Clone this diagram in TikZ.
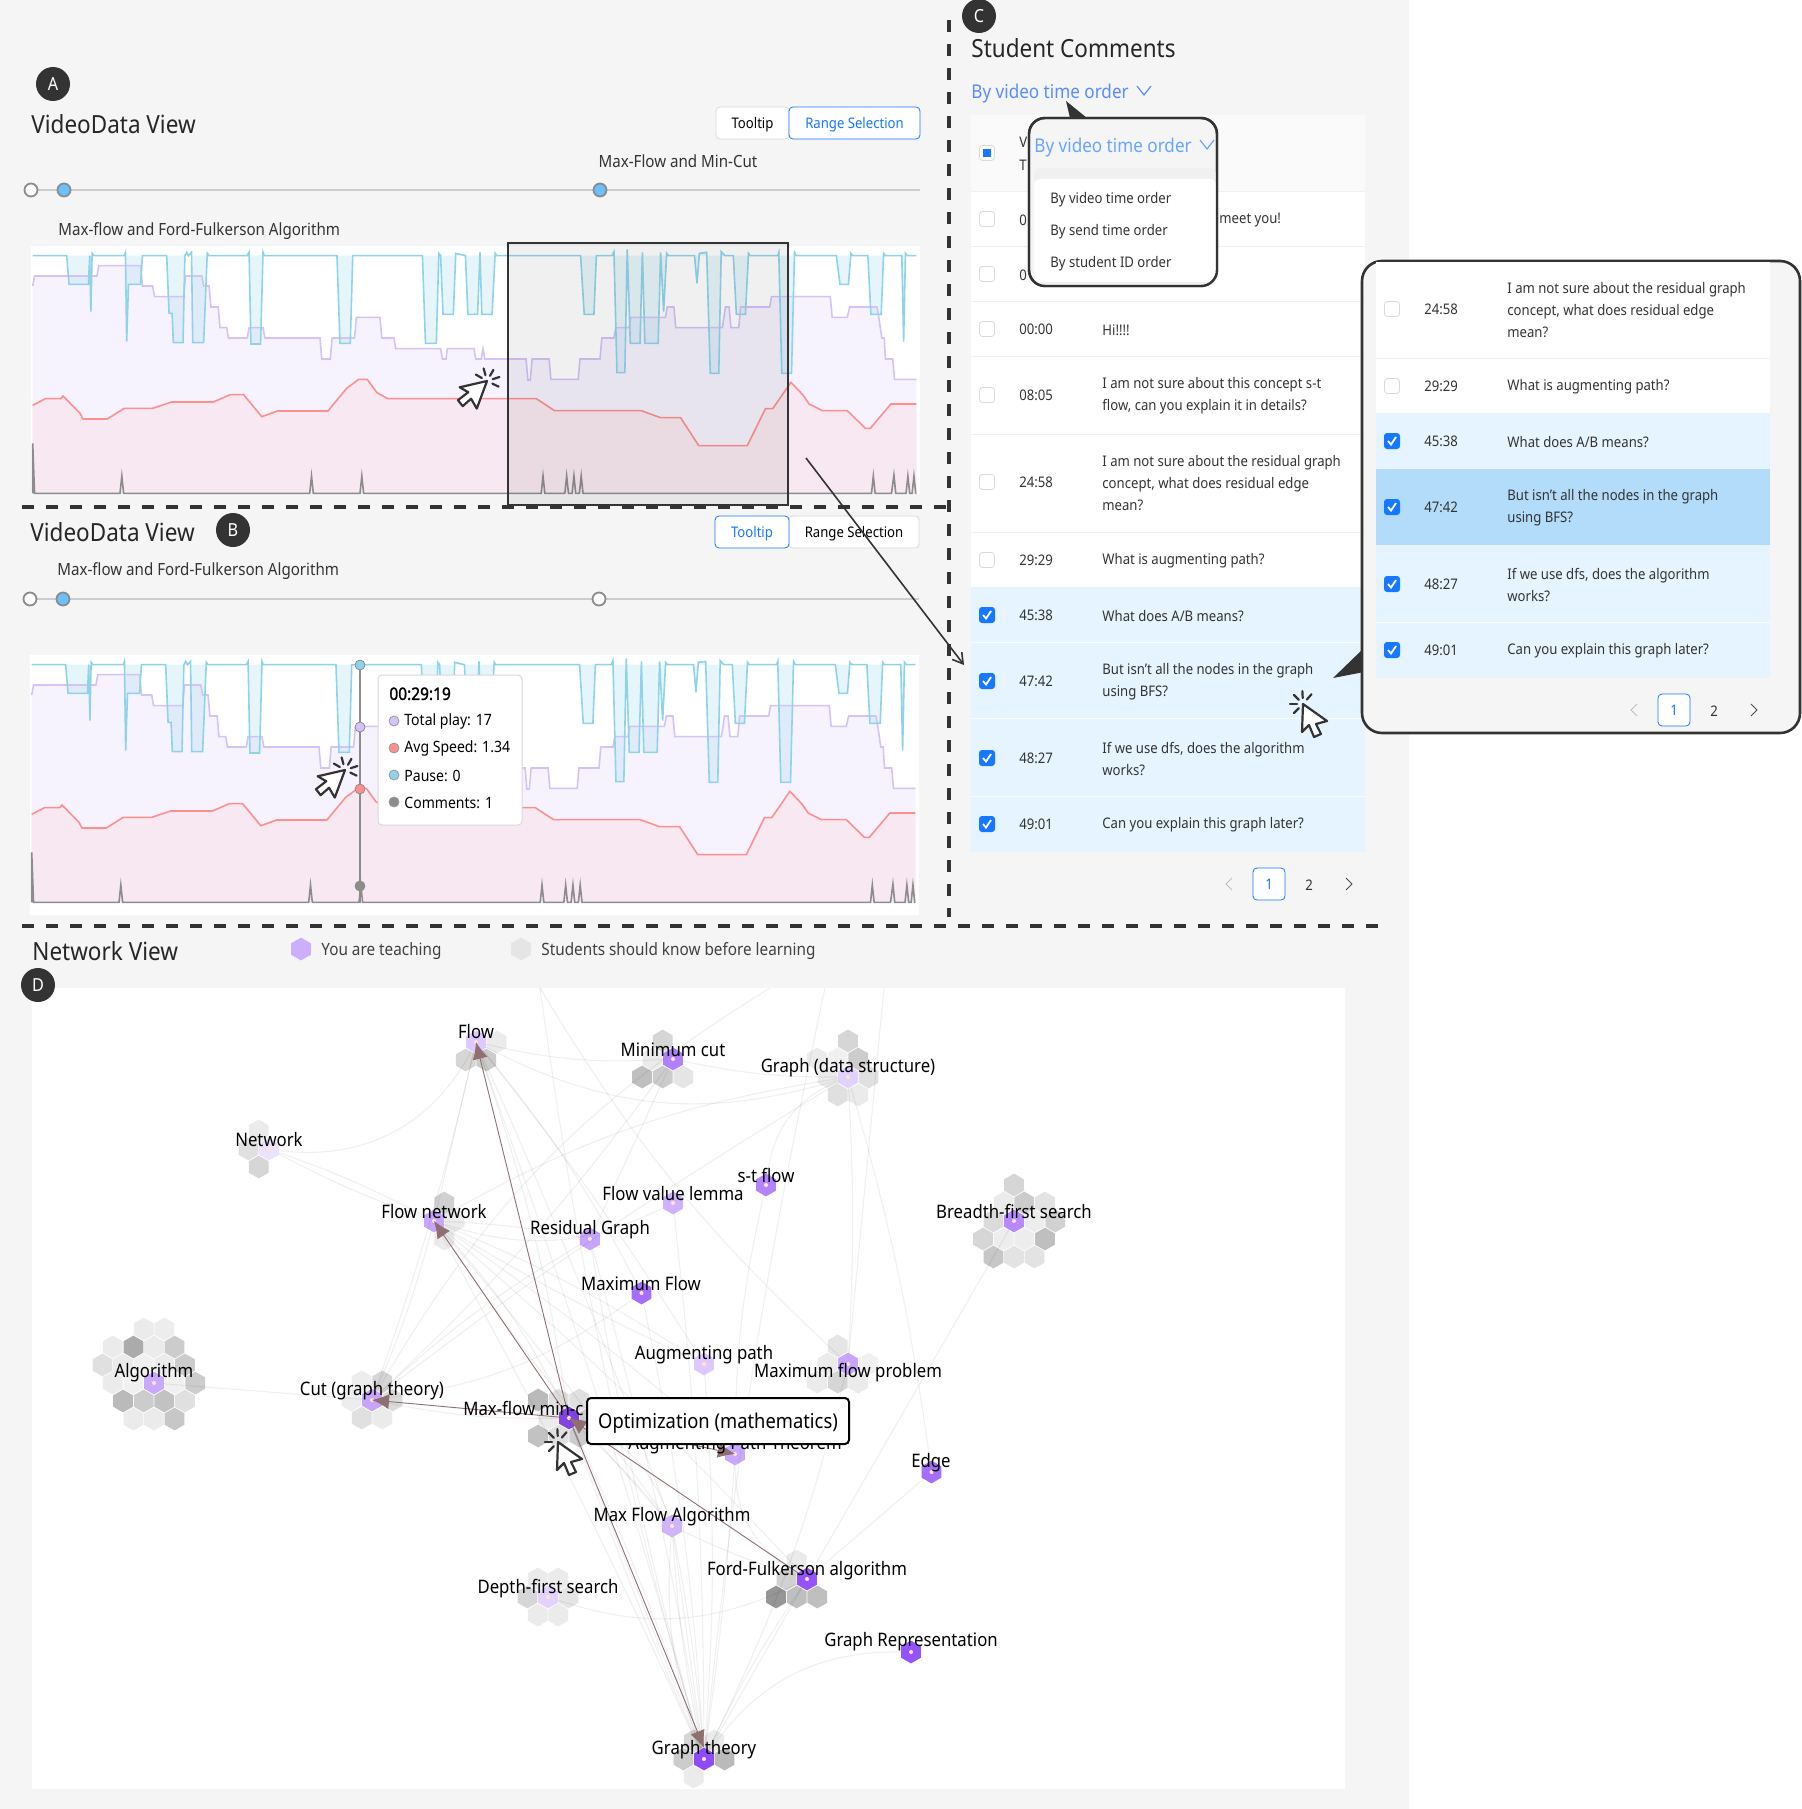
\documentclass[tikz,border=0pt]{standalone}
\usepackage{fontspec}
\setmainfont[FakeStretch=0.9]{Noto Sans}
\newfontfamily\timefont[FakeStretch=0.9,FakeBold=1.5]{Noto Sans}
\usetikzlibrary{arrows.meta,shapes.geometric}
\definecolor{pagebg}{HTML}{F5F5F5}
\definecolor{dk}{HTML}{333333}
\definecolor{ablue}{HTML}{1677FF}
\definecolor{lblue}{HTML}{69A5FF}
\definecolor{rowb}{HTML}{E6F4FF}
\definecolor{rowc}{HTML}{B3DCFB}
\definecolor{cpause}{HTML}{8FD3EA}
\definecolor{cplay}{HTML}{D5C2F7}
\definecolor{cspeed}{HTML}{FF8F8F}
\definecolor{ccom}{HTML}{8C8C8C}
\definecolor{fplay}{HTML}{F6F2FE}
\definecolor{fspeed}{HTML}{F8E8F1}
\definecolor{hndlb}{HTML}{69BFFF}
\definecolor{hv}{HTML}{8F4BFA}
\definecolor{brownl}{HTML}{8F6F6F}
\def\ptspause{(54,107) -- (110,107) -- (114,193) -- (146,193) -- (148,107) -- (150,275) -- (152,100) -- (155,107) -- (205,107) -- (207,97) -- (209,365) -- (212,193) -- (232,193) -- (235,107) -- (275,107) -- (279,280) -- (284,280) -- (286,368) -- (302,368) -- (305,107) -- (308,97) -- (311,107) -- (316,97) -- (318,368) -- (336,368) -- (342,100) -- (345,107) -- (408,107) -- (411,97) -- (414,372) -- (430,372) -- (434,97) -- (436,107) -- (556,107) -- (561,370) -- (578,370) -- (582,107) -- (697,107) -- (702,370) -- (720,370) -- (724,100) -- (727,107) -- (731,283) -- (748,283) -- (752,100) -- (768,107) -- (772,283) -- (788,283) -- (792,97) -- (795,283) -- (812,283) -- (817,100) -- (820,107) -- (958,107) -- (964,283) -- (980,283) -- (984,107) -- (1010,107) -- (1013,95) -- (1018,458) -- (1031,458) -- (1035,88) -- (1040,370) -- (1056,370) -- (1060,97) -- (1064,370) -- (1086,370) -- (1090,97) -- (1095,275) -- (1100,100) -- (1103,107) -- (1146,107) -- (1150,190) -- (1154,100) -- (1166,97) -- (1172,460) -- (1186,460) -- (1190,95) -- (1196,107) -- (1210,107) -- (1215,283) -- (1230,283) -- (1235,100) -- (1238,107) -- (1283,107) -- (1285,97) -- (1290,460) -- (1306,460) -- (1311,97) -- (1314,107) -- (1380,107) -- (1386,193) -- (1400,193) -- (1404,100) -- (1407,107) -- (1432,107) -- (1437,283) -- (1454,283) -- (1458,100) -- (1461,107) -- (1488,107) -- (1491,365) -- (1494,100) -- (1497,107) -- (1512,107)}
\def\ptsplay{(54,198) -- (57,168) -- (160,168) -- (163,137) -- (232,137) -- (235,198) -- (252,198) -- (255,230) -- (303,230) -- (306,168) -- (333,168) -- (336,198) -- (345,198) -- (348,261) -- (360,261) -- (363,323) -- (374,323) -- (377,354) -- (408,354) -- (411,323) -- (434,323) -- (437,354) -- (528,354) -- (531,417) -- (545,417) -- (548,354) -- (585,354) -- (588,292) -- (627,292) -- (630,354) -- (650,354) -- (653,386) -- (727,386) -- (730,417) -- (736,417) -- (738,386) -- (782,386) -- (785,417) -- (794,417) -- (797,386) -- (800,417) -- (868,417) -- (871,480) -- (875,480) -- (878,417) -- (906,417) -- (909,478) -- (954,478) -- (957,417) -- (990,417) -- (993,354) -- (1013,354) -- (1016,323) -- (1038,323) -- (1041,292) -- (1098,292) -- (1101,261) -- (1112,261) -- (1115,323) -- (1192,323) -- (1197,261) -- (1203,261) -- (1206,323) -- (1219,323) -- (1222,261) -- (1270,261) -- (1273,230) -- (1370,230) -- (1373,292) -- (1398,292) -- (1402,261) -- (1447,261) -- (1450,292) -- (1455,354) -- (1459,354) -- (1461,417) -- (1473,417) -- (1476,478) -- (1512,478)}
\def\ptsspeed{(54,556) -- (75,536) -- (100,536) -- (104,528) -- (132,580) -- (137,597) -- (177,597) -- (205,565) -- (252,565) -- (283,546) -- (352,546) -- (380,524) -- (402,524) -- (432,590) -- (458,573) -- (541,573) -- (572,505) -- (592,478) -- (606,478) -- (622,518) -- (640,536) -- (885,536) -- (915,572) -- (1058,572) -- (1090,593) -- (1123,593) -- (1153,677) -- (1233,677) -- (1263,566) -- (1275,566) -- (1305,487) -- (1325,525) -- (1335,552) -- (1357,572) -- (1398,572) -- (1428,625) -- (1436,625) -- (1470,552) -- (1512,552)}
\def\ptscom{(54,820) -- (54,670) -- (57,820) -- (198,820) -- (201,768) -- (204,820) -- (511,820) -- (514,768) -- (517,820) -- (594,820) -- (597,768) -- (600,820) -- (893,820) -- (896,768) -- (899,820) -- (932,820) -- (935,768) -- (938,820) -- (944,820) -- (947,768) -- (950,820) -- (956,820) -- (959,768) -- (962,820) -- (1438,820) -- (1441,768) -- (1444,820) -- (1471,820) -- (1475,765) -- (1478,820) -- (1495,820) -- (1498,768) -- (1501,820) -- (1505,820) -- (1508,768) -- (1511,820) -- (1512,820)}
\newcommand{\chartlines}[1]{\begin{scope}[#1,x=0.30303pt,y=-0.16667pt,line width=.8pt]
\fill[fplay] \ptsplay -- (1512,820) -- (54,820) -- cycle;
\fill[fspeed] \ptsspeed -- (1512,820) -- (54,820) -- cycle;
\fill[cpause,opacity=.22] \ptspause -- cycle;
\draw[cplay] \ptsplay;
\draw[cpause] \ptspause;
\draw[cspeed] \ptsspeed;
\draw[ccom] \ptscom;
\end{scope}}
\newcommand{\ckmark}[2]{\draw[white,line width=.9pt] (#1-4,#2) -- (#1-1,#2+3.5) -- (#1+4,#2-4);}
\tikzset{
 pics/clickcur/.style={code={
  \draw[dk,fill=white,line width=1.1pt,line join=round] (0,0) -- (24,17) -- (13,20) -- (18,30) -- (11,33) -- (6,21) -- (-1,28) -- cycle;
  \foreach \dx/\dy in {-1/0,-.7/-.7,-.05/-1,.65/-.75,-.7/.7} {\draw[dk,line width=1.1pt,line cap=round] (6*\dx,6*\dy) -- (13*\dx,13*\dy);}
 }}}
\begin{document}
\begin{tikzpicture}[x=.5pt,y=-.5pt,font=\fontsize{7.3}{11}\selectfont,
 ttl/.style={anchor=west,inner sep=0,yshift=-.3pt,font=\fontsize{12.5}{14}\selectfont,text=black!85},
 txt/.style={anchor=west,inner sep=0,align=left,yshift=-.4pt,text=black!80},
 lbl/.style={inner sep=0,yshift=-.3pt,font=\fontsize{9.3}{12}\selectfont,text=black},
 badge/.style={circle,fill=dk,text=white,minimum size=17pt,inner sep=0,font=\fontsize{9}{11}\selectfont},
 dashln/.style={dk,line width=2pt,dash pattern=on 6pt off 6pt},
 btn/.style={draw=black!15,fill=white,inner sep=0,minimum height=16pt,rounded corners=2pt,text height=5.7pt,text depth=.5pt},
 hndl/.style={circle,draw=ccom,line width=.9pt,inner sep=0,minimum size=6.5pt},
 ckoff/.style={draw=black!15,fill=white,rounded corners=1.5pt,minimum size=7.5pt,inner sep=0},
 ckon/.style={fill=ablue,rounded corners=1.5pt,minimum size=8pt,inner sep=0},
 hx/.style={regular polygon,regular polygon sides=6,regular polygon rotate=30,minimum size=11.4pt,inner sep=0,outer sep=0},
 ctr/.style={circle,fill=orange!20,minimum size=2pt,inner sep=0},
 lk/.style={draw=black,opacity=.06,line width=.55pt},
 hl/.style={draw=brownl,line width=.45pt,-{Latex[length=8.5pt,width=7.5pt]}},
 tdot/.style={circle,draw=ccom,line width=.4pt,minimum size=5pt,inner sep=0}]
\useasboundingbox (0,0) rectangle (1801,1809);
\fill[white] (0,0) rectangle (1801,1809);
\fill[pagebg] (0,0) rectangle (1409,1809);
\fill[white] (31,246) rectangle (920,494);
\fill[white] (30,655) rectangle (919,915);
\chartlines{shift={(0,220)}}
\chartlines{shift={(-1,629)}}
\draw[dk,line width=.9pt,fill=dk,fill opacity=.07] (508,243) rectangle (788,505);
\node[badge] (bA) at (53,84) {A};
\node[badge] (bB) at (233,530) {B};
\node[badge] (bC) at (979,16) {C};
\node[ttl] (tA) at (31,124) {VideoData View};
\node[ttl] (tB) at (30,532) {VideoData View};
\node[ttl] (tC) at (971,48) {Student Comments};
\node[ttl] (tD) at (32,951) {Network View};
\node[btn,minimum width=36.5pt] (b1) at (752.5,123) {Tooltip};
\node[btn,draw=ablue,text=ablue,minimum width=65.5pt] (b2) at (854.5,123) {Range Selection};
\node[btn,minimum width=65pt] (b4) at (854,532) {Range Selection};
\node[btn,draw=ablue,text=ablue,minimum width=37pt] (b3) at (752,532) {Tooltip};
\foreach \yy/\xa/\xb/\xc/\cc in {190/31/64/600/hndlb,599/30/63/599/white} {
 \draw[black!20,line width=.8pt] (\xa,\yy) -- (\xa+889,\yy);
 \node[hndl,fill=white] (s\yy a) at (\xa,\yy) {};
 \node[hndl,fill=hndlb] (s\yy b) at (\xb,\yy) {};
 \node[hndl,fill=\cc] (s\yy c) at (\xc,\yy) {};
}
\node[txt,anchor=center,font=\fontsize{8.4}{10}\selectfont] (mk) at (678,160) {Max-Flow and Min-Cut};
\node[txt,font=\fontsize{8.4}{10}\selectfont] (ch1) at (58,230) {Max-flow and Ford-Fulkerson Algorithm};
\node[txt,font=\fontsize{8.4}{10}\selectfont] (ch2) at (57,570) {Max-flow and Ford-Fulkerson Algorithm};
\draw[ccom,line width=.8pt] (360,664) -- (360,903);
\foreach \yy/\cc in {665/cpause,727/cplay,789/cspeed,886/ccom} {\node[tdot,fill=\cc] (v\yy) at (360,\yy) {};}
\draw[black!15,fill=white,rounded corners=2pt,line width=.5pt] (378,675) rectangle (522,825);
\node[txt,text=black,font=\fontsize{8.6}{10}\timefont] (tt0) at (389,693) {00:29:19};
\foreach \yy/\cc/\tx in {721/cplay/{Total play: 17},748/cspeed/{Avg Speed: 1.34},775/cpause/{Pause: 0},802/ccom/{Comments: 1}} {
 \node[tdot,fill=\cc,draw=black!40] (d\yy) at (394,\yy) {};
 \node[txt,text=black,font=\fontsize{7.8}{10}\selectfont] (r\yy) at (404,\yy) {\tx};
}
\draw[dashln] (22,507) -- (950,507);
\draw[dashln] (22,926) -- (1380,926);
\draw[dashln] (949,20) -- (949,917);
\fill[white] (971,115) rectangle (1365,852);
\fill[black!2] (971,115) rectangle (1365,191);
\fill[rowb] (971,587) rectangle (1365,852);
\foreach \yy in {191,246,301,356,434,532} {\draw[black!6,line width=.5pt] (971,\yy) -- (1365,\yy);}
\foreach \yy in {642,718,796} {\draw[white!70!rowb,line width=.5pt] (971,\yy) -- (1365,\yy);}
\node[ckoff] (ck0) at (987,153) {};
\fill[ablue] (983,149) rectangle (991,157);
\node[txt] (hV) at (1019,141) {V};
\node[txt] (hT) at (1019,164) {T};
\foreach \yy/\tm/\cm in {219/0/{},274/0/{},329/00:00/{Hi!!!!},395/08:05/{I am not sure about this concept s-t\\flow, can you explain it in details?},482/24:58/{I am not sure about the residual graph\\concept, what does residual edge\\mean?},560/29:29/{What is augmenting path?}} {
 \node[ckoff] (c\yy) at (987,\yy) {};
 \node[txt] (t\yy) at (1019,\yy) {\tm};
 \node[txt] (m\yy) at (1102,\yy) {\cm};
}
\node[txt] (m0) at (1219,219) {meet you!};
\foreach \yy/\tm/\cm in {615/45:38/{What does A/B means?},681/47:42/{But isn't all the nodes in the graph\\using BFS?},758/48:27/{If we use dfs, does the algorithm\\works?},824/49:01/{Can you explain this graph later?}} {
 \node[ckon] (c\yy) at (987,\yy) {};
 \ckmark{987}{\yy}
 \node[txt] (t\yy) at (1019,\yy) {\tm};
 \node[txt] (m\yy) at (1102,\yy) {\cm};
}
\node[txt,text=lblue!85!blue,font=\fontsize{9.5}{12}\selectfont] (srt) at (971,93) {By video time order};
\draw[lblue!85!blue,line width=.6pt] (1137,86) -- (1144,95) -- (1151,86);
\draw[black!25,line width=.5pt] (1232,878) -- (1226,884) -- (1232,890);
\node[btn,draw=ablue,text=ablue,minimum width=16pt,minimum height=16pt] (pb) at (1269,884) {1};
\node[txt,anchor=center] (pc) at (1309,884) {2};
\draw[black!70,line width=.5pt] (1346,878) -- (1352,884) -- (1346,890);
\fill[dk] (1066,101) -- (1070,118) -- (1087,118) -- cycle;
\draw[dk,line width=1.2pt,fill=pagebg,rounded corners=8pt] (1029,118) rectangle (1217,286);
\fill[black!6,rounded corners=3pt] (1034,168) rectangle (1216,285);
\fill[white,rounded corners=3pt] (1034,179) rectangle (1216,282);
\draw[dk,line width=1.2pt,rounded corners=8pt] (1029,118) rectangle (1217,286);
\node[txt,text=lblue,font=\fontsize{9.5}{12}\selectfont] (pop) at (1034,147) {By video time order};
\draw[lblue,line width=.6pt] (1200,140) -- (1207,149) -- (1214,140);
\foreach \yy/\tx in {199/video time,231/send time,263/student ID} {\node[txt] (o\yy) at (1050,\yy) {By \tx{} order};}
\fill[dk] (1333,678) -- (1364,648) -- (1364,672) -- cycle;
\draw[dk,line width=1.3pt,fill=pagebg,rounded corners=10pt] (1362,261) rectangle (1800,733);
\fill[white] (1376,262) rectangle (1770,413);
\fill[rowb] (1376,413) rectangle (1770,678);
\fill[rowc] (1376,469) rectangle (1770,545);
\draw[black!6,line width=.5pt] (1376,358) -- (1770,358);
\draw[white!70!rowb,line width=.5pt] (1376,622) -- (1770,622);
\foreach \yy/\tm/\cm in {309/24:58/{I am not sure about the residual graph\\concept, what does residual edge\\mean?},386/29:29/{What is augmenting path?}} {
 \node[ckoff] (e\yy) at (1392,\yy) {};
 \node[txt] (f\yy) at (1424,\yy) {\tm};
 \node[txt] (g\yy) at (1507,\yy) {\cm};
}
\foreach \yy/\tm/\cm in {441/45:38/{What does A/B means?},507/47:42/{But isn't all the nodes in the graph\\using BFS?},584/48:27/{If we use dfs, does the algorithm\\works?},650/49:01/{Can you explain this graph later?}} {
 \node[ckon] (e\yy) at (1392,\yy) {};
 \ckmark{1392}{\yy}
 \node[txt] (f\yy) at (1424,\yy) {\tm};
 \node[txt] (g\yy) at (1507,\yy) {\cm};
}
\draw[black!25,line width=.5pt] (1637,704) -- (1631,710) -- (1637,716);
\node[btn,draw=ablue,text=ablue,minimum width=16pt,minimum height=16pt] (qb) at (1674,710) {1};
\node[txt,anchor=center] (qc) at (1714,710) {2};
\draw[black!70,line width=.5pt] (1751,704) -- (1757,710) -- (1751,716);
\coordinate (zs) at (806,458);
\coordinate (ze) at (964,665);
\draw[dk,line width=.8pt,-{Straight Barb[length=5pt,width=6pt]}] (zs) -- (ze);
\fill[white] (32,988) rectangle (1345,1789);
\node[badge] (bD) at (38,985) {D};
\node[hx,fill=hv!45] (lg1) at (301,949) {};
\node[txt,text=black!75,font=\fontsize{8.5}{10}\selectfont] (lt1) at (321,950) {You are teaching};
\node[hx,fill=black!10] (lg2) at (521,949) {};
\node[txt,text=black!75,font=\fontsize{8.5}{10}\selectfont] (lt2) at (541,950) {Students should know before learning};
\foreach \nm/\xx/\yy/\hl in {
 flow/476/1042/{1/0/8,-1/1/16,0/1/20},
 mincut/673/1059/{0/-1/16,-1/0/8,-2/1/25,-1/1/20,0/1/10},
 gdata/848/1077/{1/-2/16,-1/-1/8,0/-1/6,1/-1/20,-1/0/8,1/0/12,-1/1/12,0/1/8},
 netw/269/1149/{0/-1/8,-1/0/12,-1/1/16},
 fnet/434/1221/{1/-1/18,1/0/8,0/1/8},
 bfs/1014/1221/{1/-2/16,0/-1/8,1/-1/20,2/-1/11,-1/0/14,1/0/7,2/0/18,-2/1/16,-1/1/7,0/1/7,1/1/25,-2/2/22,-1/2/11,0/2/11},
 mfp/848/1364/{0/-1/10,-1/0/8,1/0/6,-2/1/8,-1/1/16,0/1/8},
 algo/154/1383/{1/-3/8,2/-3/7,-1/-2/8,0/-2/33,1/-2/8,2/-2/20,-2/-1/12,-1/-1/8,0/-1/6,1/-1/8,2/-1/20,-2/0/8,-1/0/6,1/0/6,2/0/20,-2/1/27,-1/1/20,0/1/24,1/1/12,-2/2/8,-1/2/8,0/2/22},
 cut/372/1400/{0/-1/7,1/-1/16,-1/0/7,1/0/14,-1/1/12,0/1/8},
 mf/569/1418/{-1/-1/27,0/-1/12,1/-1/12,-1/0/8,1/0/20,-2/1/24,-1/1/12,0/1/20},
 ff/807/1579/{0/-1/8,-1/0/18,-2/1/41,-1/1/25,0/1/25},
 dfs/548/1597/{0/-1/8,1/-1/8,-1/0/16,1/0/10,-1/1/8,0/1/8},
 gt/704/1759/{0/-1/16,1/-1/8,-1/0/20,1/0/27,-1/1/8}} {
 \foreach \q/\r/\g in \hl {\node[hx,fill=black!\g] (\nm h\q h\r) at ({\xx+20.6*(\q+\r/2)},{\yy+18*\r}) {};}
}
\foreach \nm/\xx/\yy/\cc in {flow/476/1042/30,mincut/673/1059/70,gdata/848/1077/26,netw/269/1149/16,fnet/434/1221/50,fval/673/1203/43,stflow/766/1185/69,resg/590/1239/50,maxfl/641.5/1293/80,bfs/1014/1221/65,augp/704/1364/30,mfp/848/1364/50,algo/154/1383/48,cut/372/1400/50,mf/569/1418/90!black,augt/735/1454/48,edg/931.5/1472/80,mfa/672/1526/42,ff/807/1579/95,dfs/548/1597/25,grep/911/1652/95,gt/704/1759/100} {
 \node[hx,fill=hv!\cc] (\nm) at (\xx,\yy) {};
 \node[ctr] (\nm d) at (\xx,\yy) {};
}
\coordinate (topa) at (540,988);
\coordinate (topb) at (825,988);
\coordinate (topc) at (884,988);
\coordinate (topd) at (770,988);
\foreach \a/\b/\bb in {netw/flow/-35,flow/mincut/-8,flow/gdata/-22,mincut/gdata/-6,gdata/fnet/-10,mincut/cut/5,resg/mincut/0,fnet/flow/0,cut/fnet/-4,cut/flow/-3,resg/cut/-6,fnet/resg/4,fval/fnet/22,fval/gt/3,maxfl/gt/4,maxfl/cut/14,flow/augp/3,flow/mf/5,flow/maxfl/6,flow/gt/2,flow/mfa/2,fnet/mfa/2,fnet/ff/3,fnet/augp/5,fnet/augp/-3,fnet/gt/2,fnet/mf/8,fnet/mfa/-4,fnet/augt/3,cut/mf/-6,cut/gdata/3,mfp/gdata/-3,mfp/gt/6,stflow/gdata/30,stflow/augt/-6,augp/gt/4,resg/gt/3,resg/gt/-3,mf/gt/0,mf/gt/3,mf/gt/-2,mf/mfa/4,mf/mfa/24,augt/gt/2,augt/ff/-30,edg/ff/0,bfs/ff/0,dfs/ff/-22,ff/gt/0,ff/gt/-4,mfa/gt/-4,mfa/gt/3,mfa/gt/0,mfa/gt/-12,grep/gt/-28,algo/cut/0,mfa/ff/-4,topa/mfp/-8,topb/gt/-3,topd/cut/-14,topc/mfp/0,topa/gt/-4,gdata/edg/4} {
 \draw[lk] (\a) to[bend left=\bb] (\b);
}
\draw[lk] (netw) to[bend right=4] (fnet);
\draw[lk] (netw) to[bend left=4] (fnet);
\draw[hl] (mf) -- (flow.center);
\draw[hl] (mf) -- (fnet.center);
\draw[hl] (mf) -- (cut.center);
\draw[hl] (mf) -- (gt.north);
\draw[hl] (mf) -- (augt.center);
\draw[hl] (ff) -- (mf.center);
\foreach \nm/\xx/\yy/\tx in {flow/476/1031/Flow,mincut/673/1049/Minimum cut,gdata/848/1067/Graph (data structure),netw/269/1139/Network,fnet/434/1211/Flow network,fval/673/1193/Flow value lemma,stflow/766/1175/s-t flow,resg/590/1229/Residual Graph,maxfl/641/1283/Maximum Flow,bfs/1014/1211/Breadth-first search,augp/704/1354/Augmenting path,mfp/848/1372/Maximum flow problem,algo/154/1372/Algorithm,cut/372/1390/Cut (graph theory),augt/735/1444/Augmenting Path Theorem,edg/931/1462/Edge,mfa/672/1516/Max Flow Algorithm,ff/807/1570/Ford-Fulkerson algorithm,dfs/548/1588/Depth-first search,grep/911/1641/Graph Representation,gt/704/1749/Graph theory} {
 \node[lbl] (\nm l) at (\xx,\yy) {\tx};
}
\node[lbl,anchor=west] (mfl) at (463,1408) {Max-flow min-c};
\node[draw=black,fill=white,line width=1pt,rounded corners=2pt,minimum width=131pt,minimum height=23pt,inner sep=0,text height=7.7pt,text depth=.5pt,font=\fontsize{10.2}{12}\selectfont] (optm) at (718,1421) {Optimization (mathematics)};
\pic (curA) at (487,381) [rotate=-75] {clickcur};
\pic (curB) at (345,770) [rotate=-75] {clickcur};
\pic (curC) at (1303,704) {clickcur};
\pic (curD) at (558,1442) {clickcur};
\end{tikzpicture}
\end{document}
